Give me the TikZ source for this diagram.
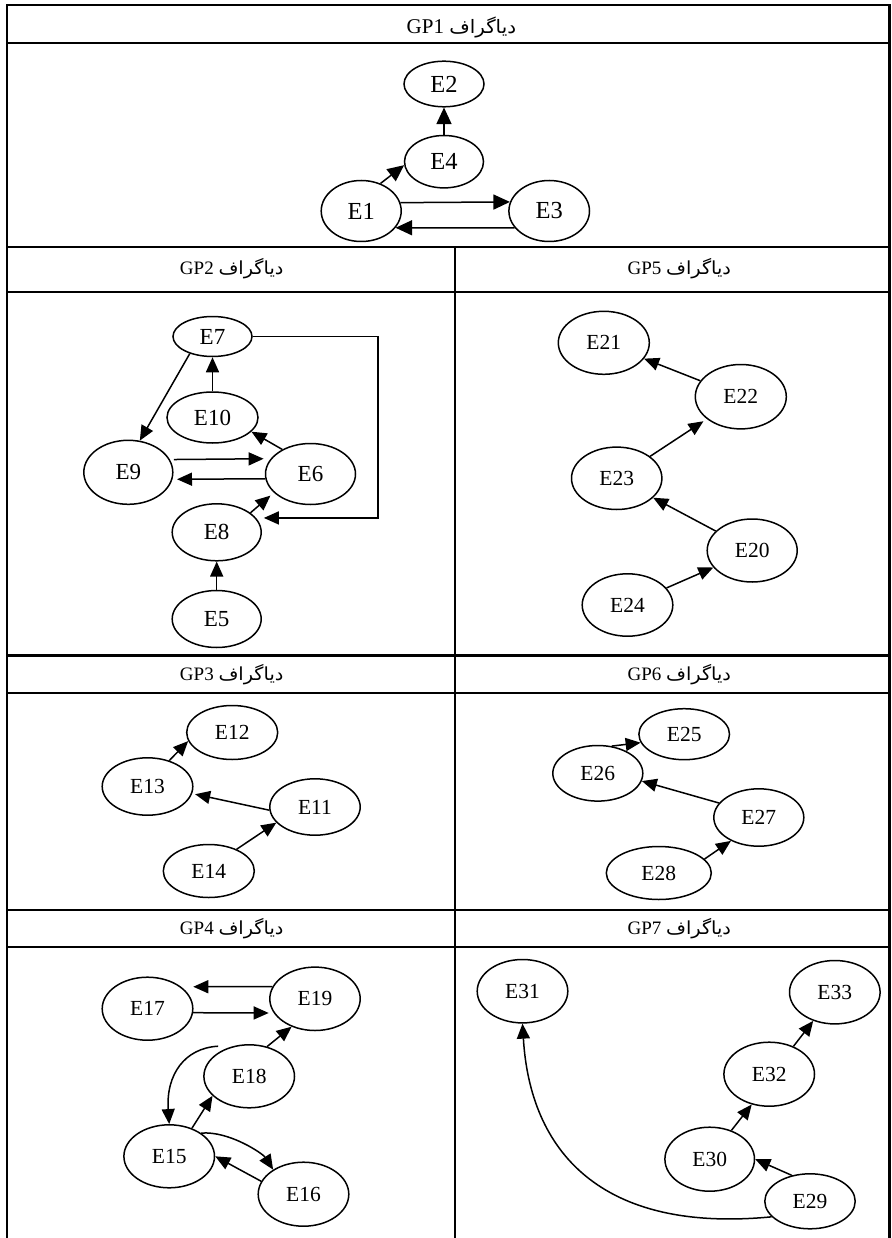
\documentclass[tikz,border=0pt]{standalone}
\usepackage{fontspec}
\setmainfont{Liberation Serif}
\newfontfamily\arabicfont[Script=Arabic]{DejaVu Sans}
\TeXXeTstate=1
\usetikzlibrary{shapes.geometric,arrows.meta}
\newcommand{\pword}[1]{\scalebox{1.07}[1]{\arabicfont\fontsize{#1}{#1}\selectfont\beginR دیاگراف\endR}}
\begin{document}
\begin{tikzpicture}[x=1pt,y=-1pt,
  el/.style 2 args={ellipse,draw,line width=1.5pt,inner sep=0pt,minimum width=#1pt,minimum height=#2pt},
  fA/.style={font=\fontsize{24.5}{26}\selectfont},
  fB/.style={font=\fontsize{23}{25}\selectfont},
  fC/.style={font=\fontsize{21.5}{23}\selectfont},
  arr/.style={-{Triangle[length=15pt,width=13pt]},line width=1.5pt},
  arrA/.style={-{Triangle[length=16.5pt,width=15pt]},line width=1.5pt},
  rule/.style={line width=2.3pt},
  ttl/.style={font=\fontsize{19}{21}\selectfont,inner sep=0pt,anchor=base},
  ttlA/.style={font=\fontsize{21}{23}\selectfont,inner sep=0pt,anchor=base}]
\useasboundingbox (0,0) rectangle (891,1238);
% table frame
\draw[rule] (7.3,1238) -- (7.3,5) -- (889.5,5) -- (889.5,1238);
\draw[rule] (7.3,43) -- (889.5,43);
\draw[rule] (7.3,247.3) -- (889.5,247.3);
\draw[rule] (7.3,291.7) -- (889.5,291.7);
\draw[rule] (7.3,655.5) -- (889.5,655.5);
\draw[rule] (7.3,693.3) -- (889.5,693.3);
\draw[rule] (7.3,910) -- (889.5,910);
\draw[rule] (7.3,947.3) -- (889.5,947.3);
\draw[rule] (455,247.3) -- (455,1238);
% titles
\node[ttlA] (t1) at (461.4,33.3) {GP1 \pword{18.5}};
\node[ttl] (t2) at (231.7,275) {GP2 \pword{18}};
\node[ttl] (t5) at (679.3,275) {GP5 \pword{18}};
\node[ttl] (t3) at (231.7,680.7) {GP3 \pword{18}};
\node[ttl] (t6) at (679.3,680.5) {GP6 \pword{18}};
\node[ttl] (t4) at (231.7,934.3) {GP4 \pword{18}};
\node[ttl] (t7) at (679.3,934.3) {GP7 \pword{18}};
% GP1
\node[el={80}{45.6},fA] (E2) at (444,84) {E2};
\node[el={79}{52.4},fA] (E4) at (444,161.7) {E4};
\node[el={80}{61},fA] (E1) at (361.2,211) {E1};
\node[el={80.6}{61},fA] (E3) at (549.2,211) {E3};
\draw[arrA] (E4.north) -- (E2.south);
\draw[arrA] (E1.55) -- (E4.185);
\draw[arrA] (E1.12.6) -- (E3.167.4);
\draw[arrA] (E3.206) -- (E1.-26);
% GP2
\node[el={79}{40},fB] (E7) at (212.5,336.5) {E7};
\node[el={91}{51},fB] (E10) at (212.5,417.5) {E10};
\node[el={89}{64},fB] (E9) at (128.3,472.3) {E9};
\node[el={90}{61},fB] (E6) at (310.5,474) {E6};
\node[el={89}{57},fB] (E8) at (216.7,532.3) {E8};
\node[el={89}{57},fB] (E5) at (216.7,619) {E5};
\draw[arr] (E10.north) -- (E7.south);
\draw[arr] (E7.217) -- (E9.70);
\draw[arr] (E6.139) -- (E10.-20);
\draw[arr,shorten <=4pt,shorten >=7pt] (E9.17.5) -- (E6.159.9);
\draw[arr,shorten >=4.5pt] (E6.186.7) -- (E9.-9.1);
\draw[arr,shorten >=4.5pt] (E8.30) -- (E6.207);
\draw[arr] (E7.east) -- ++(125.2,0) |- ([xshift=7.7pt]E8.20.6);
\draw[arr] (E5.north) -- (E8.south);
% GP5
\node[el={91}{63},fC] (E21) at (603.8,342.8) {E21};
\node[el={91}{64.4},fC] (E22) at (740.8,396.7) {E22};
\node[el={90.4}{62.4},fC] (E23) at (616.7,478.3) {E23};
\node[el={90}{63},fC] (E20) at (752.2,550.5) {E20};
\node[el={90.6}{62.4},fC] (E24) at (627.5,605) {E24};
\draw[arr] (E22) -- (E21);
\draw[arr,shorten >=4pt] (E23) -- (E22);
\draw[arr] (E20) -- (E23);
\draw[arr] (E24) -- (E20);
% GP3
\node[el={91}{54},fC] (E12) at (232.2,732.5) {E12};
\node[el={90.6}{57.4},fC] (E13) at (147.5,786.5) {E13};
\node[el={90.4}{56.4},fC] (E11) at (315,807) {E11};
\node[el={91}{53},fC] (E14) at (208.8,871) {E14};
\draw[arr] (E13.50) -- (E12.191);
\draw[arr,shorten >=3pt] (E11.184) -- (E13.-9);
\draw[arr] (E14.38) -- (E11.202);
% GP6
\node[el={90.6}{51},fC] (E25) at (684.2,734.2) {E25};
\node[el={90}{55.6},fC] (E26) at (597.8,773.3) {E26};
\node[el={90}{57.4},fC] (E27) at (758.8,817.5) {E27};
\node[el={105}{53},fC] (E28) at (658.8,873) {E28};
\draw[arr] (E26.63) -- (E25.191);
\draw[arr] (E27.160) -- (E26.-10);
\draw[arr] (E28.17) -- (E27.220);
% GP4
\node[el={90.6}{63},fC] (E17) at (147.5,1008.7) {E17};
\node[el={90.4}{63.4},fC] (E19) at (315,998.8) {E19};
\node[el={90.6}{63},fC] (E18) at (249.2,1076.3) {E18};
\node[el={90.6}{63},fC] (E15) at (169.2,1156.3) {E15};
\node[el={90.6}{64},fC] (E16) at (303.5,1194.2) {E16};
\draw[arr,shorten >=12pt] (E19.164.1) -- (E17.33.5);
\draw[arr,shorten >=5pt] (E17.-5.8) -- (E19.199.6);
\draw[arr] (E18.59) -- (E19.230);
\draw[arr] ([shift={(-4pt,4pt)}]E18.136) .. controls +(-33.6,1.8) and +(-3.3,-49.3) .. (E15.north);
\draw[arr] (E15.51) -- (E18.208);
\draw[arr] (E15.36) .. controls +(28,-2.3) and +(-10.4,-16.1) .. (E16.141);
\draw[arr] (E16.163) -- (E15.east);
% GP7
\node[el={90.6}{63.4},fC] (E31) at (522.5,991.2) {E31};
\node[el={90.6}{63.4},fC] (E33) at (834.8,992.2) {E33};
\node[el={90.6}{64},fC] (E32) at (769.2,1074.2) {E32};
\node[el={89.6}{64},fC] (E30) at (709.7,1159.2) {E30};
\node[el={90.4}{55},fC] (E29) at (810,1201.3) {E29};
\draw[arr] (E32.49) -- (E33.233);
\draw[arr] (E30.53) -- (E32.240);
\draw[arr] (E29.125) -- (E30.east);
\draw[arr] (E29.202) .. controls +(-171.7,16.7) and +(7.5,127) .. (E31.south);
\end{tikzpicture}
\end{document}
